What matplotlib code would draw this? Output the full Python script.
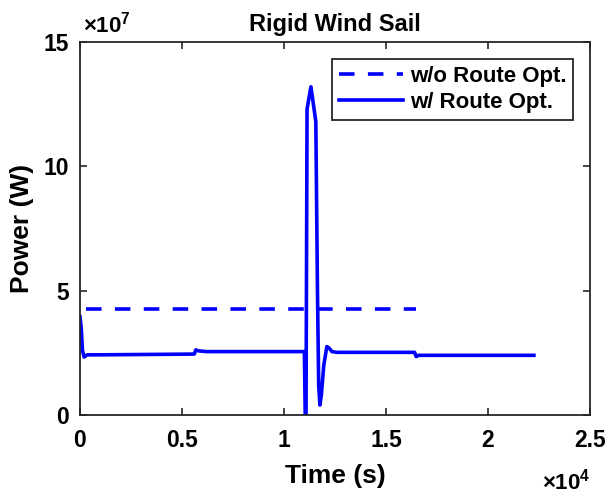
import numpy as np
import matplotlib
matplotlib.use('Agg')
import matplotlib.pyplot as plt
from matplotlib.ticker import FuncFormatter

plt.rcParams['font.family'] = 'Liberation Sans'
plt.rcParams['font.weight'] = 'bold'
plt.rcParams['mathtext.fontset'] = 'custom'
plt.rcParams['mathtext.rm'] = 'Liberation Sans:bold'
plt.rcParams['mathtext.bf'] = 'Liberation Sans:bold'
plt.rcParams['mathtext.default'] = 'bf'

# power without route optimisation (constant)
t_noopt = [300, 16470]
p_noopt = [4.25e7, 4.25e7]

# power with route optimisation
t_opt = [0, 60, 120, 200, 350, 1000, 5600, 5680, 5800, 6200, 11000, 11040, 11080,
         11130, 11320, 11560, 11640, 11700, 11760, 11830, 11950, 12100, 12200,
         12350, 12600, 16400, 16480, 16600, 16900, 22250]
p_opt = [3.95e7, 3.5e7, 2.6e7, 2.33e7, 2.42e7, 2.42e7, 2.45e7, 2.62e7, 2.58e7, 2.55e7,
         2.55e7, 0.0, 0.0, 12.3e7, 13.2e7, 11.8e7, 5.0e7, 1.2e7, 0.4e7, 0.8e7,
         2.0e7, 2.75e7, 2.7e7, 2.55e7, 2.52e7, 2.52e7, 2.35e7, 2.4e7, 2.4e7, 2.4e7]

blue = '#0000FF'
axcol = '#262626'

fig = plt.figure(figsize=(6.09, 4.96), dpi=100)
ax = fig.add_axes([80/609, 81/496, 510/609, 373/496])

ax.plot(t_noopt, p_noopt, color=blue, lw=2.6, dashes=(4.3, 3.7), label='w/o Route Opt.')
ax.plot(t_opt, p_opt, color=blue, lw=2.6, label='w/ Route Opt.')

ax.set_xlim(0, 2.5e4)
ax.set_ylim(0, 15e7)
ax.set_xticks([0, 0.5e4, 1e4, 1.5e4, 2e4, 2.5e4])
ax.set_yticks([0, 5e7, 10e7, 15e7])
ax.xaxis.set_major_formatter(FuncFormatter(lambda v, p: '%g' % (v / 1e4)))
ax.yaxis.set_major_formatter(FuncFormatter(lambda v, p: '%g' % (v / 1e7)))
ax.tick_params(direction='in', length=5, width=1.2, colors=axcol, labelsize=16.5,
               top=True, right=True)
ax.tick_params(axis='x', pad=10)
ax.tick_params(axis='y', pad=8)
for lab in ax.get_xticklabels() + ax.get_yticklabels():
    lab.set_color('black')
    lab.set_fontweight('bold')
for s in ax.spines.values():
    s.set_color(axcol)
    s.set_linewidth(1.3)

ax.set_xlabel('Time (s)', fontsize=19, fontweight='bold', labelpad=9)
ax.set_ylabel('Power (W)', fontsize=19, fontweight='bold', labelpad=7)
ax.set_title('Rigid Wind Sail', fontsize=17, fontweight='bold', pad=8)

ax.text(3/510, 1.012, r'$\mathrm{\times}10^{7}$', transform=ax.transAxes, fontsize=16, ha='left', va='bottom')
ax.text(1.0, -0.145, r'$\mathrm{\times}10^{4}$', transform=ax.transAxes, fontsize=16, ha='right', va='top')

leg = ax.legend(loc='upper right', bbox_to_anchor=(493/510, 356/373), borderaxespad=0,
                fancybox=False, framealpha=1, edgecolor=axcol, fontsize=16,
                handlelength=2.9, handletextpad=0.3, borderpad=0.3, labelspacing=0.25)
leg.get_frame().set_linewidth(1.3)
for txt in leg.get_texts():
    txt.set_fontweight('bold')

fig.savefig('out.png', dpi=100)
